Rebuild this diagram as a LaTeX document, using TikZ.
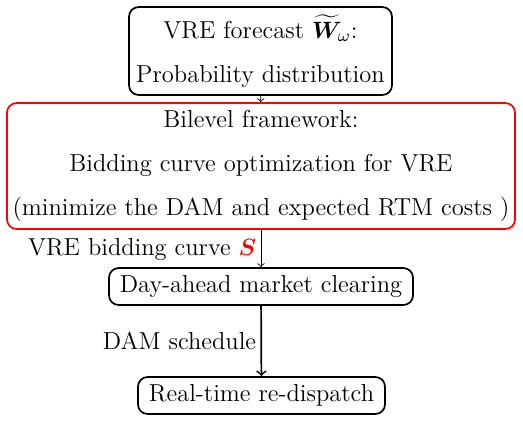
\documentclass[tikz,border=0pt]{standalone}
\usepackage{amsmath,bm}
\begin{document}
\begin{tikzpicture}[x=0.4651pt,y=-0.4651pt,
  every node/.style={font=\fontsize{11.4pt}{14pt}\selectfont},
  box/.style={draw,rounded corners=4.5pt,line width=0.8pt,align=center,inner sep=1pt},
  thinarrow/.style={->,line width=0.4pt},
  thickarrow/.style={->,line width=0.8pt},
  lab/.style={anchor=east,inner sep=2pt}]
\useasboundingbox (0,0) rectangle (523,422);
\node[box,minimum width=122.3pt,minimum height=40.9pt] (fc) at (260.5,51)
  {VRE forecast $\widetilde{\bm{W}}_{\omega}$:\\[6.6pt] Probability distribution};
\node[box,draw=red,minimum width=236.3pt,minimum height=58.6pt] (bl) at (261,166)
  {Bilevel framework:\\[6.6pt] Bidding curve optimization for VRE\\[6.6pt] (minimize the DAM and expected RTM costs )};
\node[box,minimum width=141.4pt,minimum height=17.2pt] (dam) at (261,286.5) {Day-ahead market clearing};
\node[box,minimum width=114.9pt,minimum height=17.2pt] (rt) at (261.5,395.5) {Real-time re-dispatch};
\draw[thinarrow] (fc) -- (bl);
\draw[thinarrow] (bl) -- node[lab,pos=0.52] {VRE bidding curve {\color{red}$\bm{S}$}} (dam);
\draw[thickarrow] (dam) -- node[lab,pos=0.5] {DAM schedule} (rt);
\end{tikzpicture}
\end{document}
